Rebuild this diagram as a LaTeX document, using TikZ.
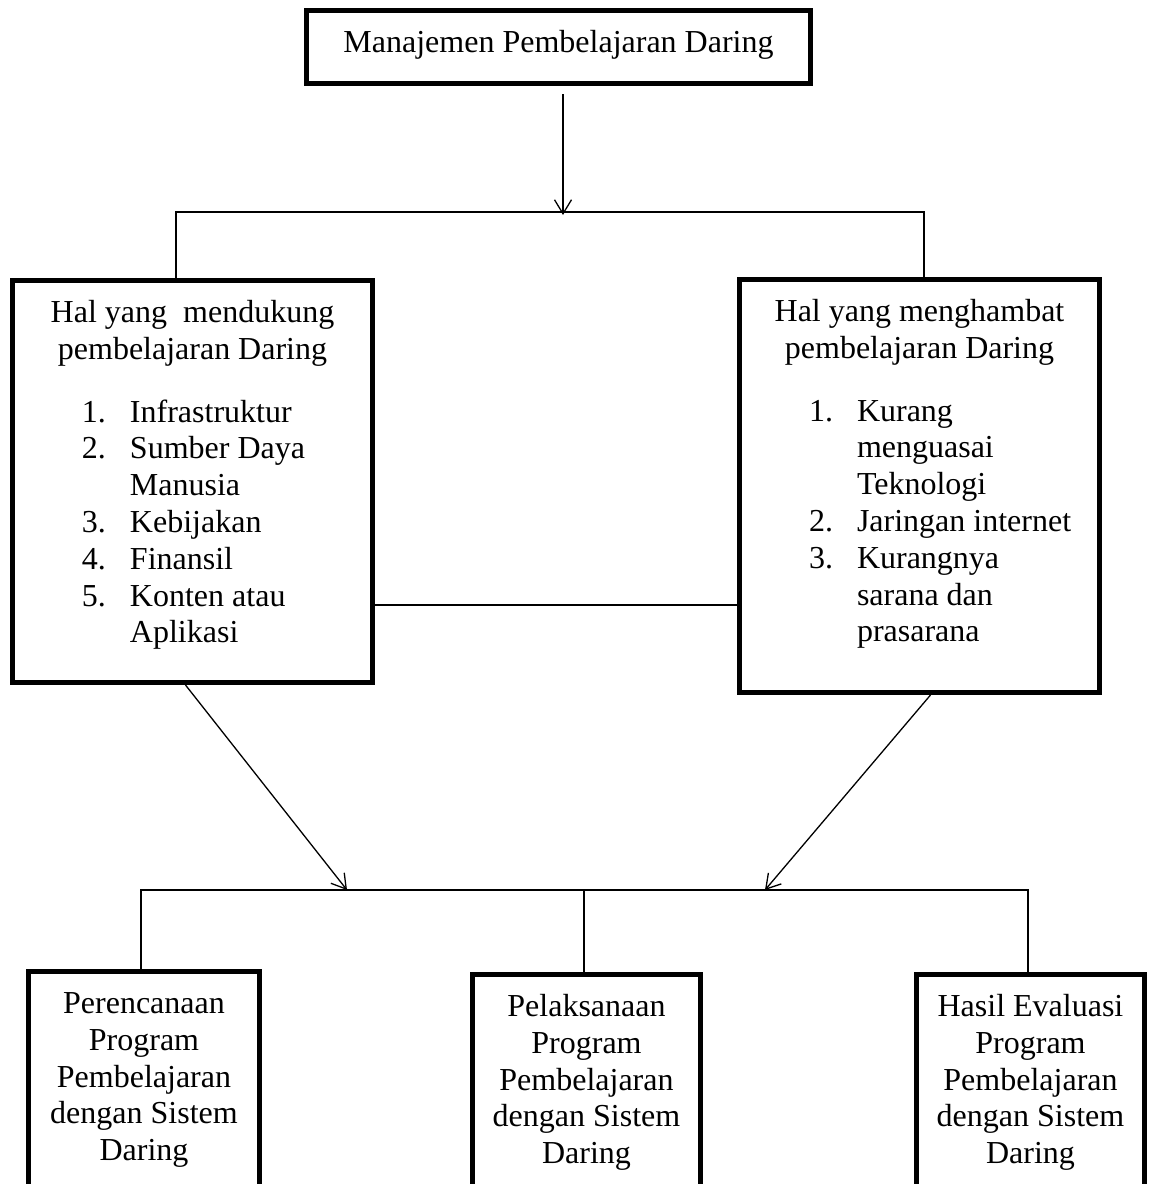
\documentclass[tikz,border=0pt]{standalone}
\usepackage{fontspec}
\setmainfont{Liberation Serif}
\usetikzlibrary{arrows.meta,calc}
\tikzset{
  box/.style = {draw, line width=5pt, inner sep=0pt, font=\fontsize{32}{36.8}\selectfont},
  link/.style = {line width=1.3pt},
  arrowlink/.style = {link, -{Straight Barb[length=14pt, width=17pt]}},
}
\newcommand{\boxtext}[3]{\parbox[c][#2][t]{#1}{\centering\rule{0pt}{42pt}#3}}
\newcommand{\listnum}[1]{\par\noindent\hspace*{-48pt}\makebox[48pt][l]{#1}}

\begin{document}
\begin{tikzpicture}[x=1pt, y=-1pt]
\useasboundingbox (0,0) rectangle (1149,1184);
\clip (0,0) rectangle (1149,1184);

% top box
\node[box] (top) at (558.5,47) {\boxtext{504pt}{73pt}{Manajemen Pembelajaran Daring}};

% supporting / hindering boxes
\node[box] (support) at (192.5,481.5) {\boxtext{360pt}{402pt}{Hal yang~ mendukung\\pembelajaran Daring\par
  \vspace{26pt}\raggedright\leftskip=117.5pt
  \listnum{1.}Infrastruktur
  \listnum{2.}Sumber Daya\\Manusia
  \listnum{3.}Kebijakan
  \listnum{4.}Finansil
  \listnum{5.}Konten atau\\Aplikasi\par}};
\node[box] (hinder) at (919.5,486) {\boxtext{360pt}{413pt}{Hal yang menghambat\\pembelajaran Daring\par
  \vspace{26pt}\raggedright\leftskip=117.5pt
  \listnum{1.}Kurang\\menguasai\\Teknologi
  \listnum{2.}Jaringan internet
  \listnum{3.}Kurangnya\\sarana dan\\prasarana\par}};

% bottom boxes
\node[box] (plan) at (144,1121.5) {\boxtext{231pt}{300pt}{Perencanaan\\Program\\Pembelajaran\\dengan Sistem\\Daring}};
\node[box] (run) at (586.5,1124.5) {\boxtext{228pt}{300pt}{Pelaksanaan\\Program\\Pembelajaran\\dengan Sistem\\Daring}};
\node[box] (eval) at (1030.5,1124.5) {\boxtext{228pt}{300pt}{Hasil Evaluasi\\Program\\Pembelajaran\\dengan Sistem\\Daring}};

% upper split
\coordinate (split) at (563,215);
\coordinate (splitL) at (176,212);
\coordinate (splitR) at (924,212);
\draw[arrowlink, shorten <=8pt] (top.south -| split) -- (split);
\draw[link] (splitL |- support.north) -- (splitL) -- (splitR) -- (splitR |- hinder.north);
\draw[link] ($(support.south east)+(0,-80)$) -- ($(hinder.south west)+(0,-90)$);

% lower split
\coordinate (joinL) at (141,890);
\coordinate (joinM) at (584,890);
\coordinate (joinR) at (1028,890);
\coordinate (tipL) at (347,890);
\coordinate (tipR) at (765,890);
\draw[arrowlink] ($(support.south)+(-7,0)$) -- (tipL);
\draw[arrowlink] ($(hinder.south)+(11,0)$) -- (tipR);
\draw[link] (joinL |- plan.north) -- (joinL) -- (joinR) -- (joinR |- eval.north);
\draw[link] (joinM) -- (joinM |- run.north);

\end{tikzpicture}
\end{document}
